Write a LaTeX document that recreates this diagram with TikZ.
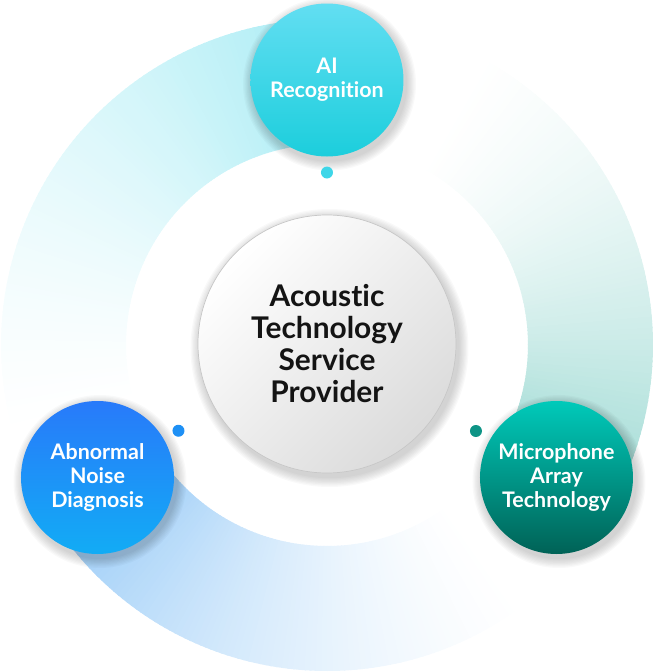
\documentclass[tikz,border=0pt]{standalone}
\usepackage{fontspec}
\setmainfont{Lato}[Ligatures=NoCommon]
\usepackage{tikz}
\usepackage{xcolor}
\definecolor{cyanring}{RGB}{182,239,246}
\definecolor{tealring}{RGB}{166,221,215}
\definecolor{bluering}{RGB}{166,210,248}
\definecolor{aitop}{RGB}{98,222,242}
\definecolor{aibot}{RGB}{28,206,220}
\definecolor{noisetop}{RGB}{40,122,250}
\definecolor{noisebot}{RGB}{18,172,245}
\definecolor{mictop}{RGB}{0,202,186}
\definecolor{micbot}{RGB}{0,98,86}
\definecolor{aidot}{RGB}{62,214,232}
\definecolor{noisedot}{RGB}{30,144,245}
\definecolor{micdot}{RGB}{14,148,134}

\begin{document}
\begin{tikzpicture}[
every node/.style = {circle, inner sep=0pt, align=center, text=white, font=\bfseries\fontsize{12.2}{13.7}\selectfont},
  bubble/.style = {minimum size=3.06cm, shading angle=45},
  dot/.style = {minimum size=0.24cm}
]
\useasboundingbox (-6.54,-6.54) rectangle (6.54,6.9);
% ring, each part fading out along the circle
\foreach \col/\from/\to/\start/\len in {cyanring/90/210/100/95, tealring/-30/70/-25/85, bluering/210/306/220/85}
  \foreach \a in {\from,...,\to} {
    \pgfmathsetmacro\t{max(0,min(1,1-(\a-\start)/\len))}
    \pgfmathsetmacro\f{100*\t*(0.4+0.6*\t)}
    \pgfmathsetmacro\b{\a+1.3}
    \fill[\col!\f!white] (\a:4.02) arc[start angle=\a, end angle=\b, radius=4.02] -- (\b:6.52) arc[start angle=\b, end angle=\a, radius=6.52] -- cycle;
  }
% shadows
\coordinate (c) at (0,0.02);
\coordinate (a) at (90:5.3);
\coordinate (n) at (210:5.3);
\coordinate (m) at (330:5.3);
\foreach \p/\r in {c/2.58, a/1.53, n/1.53, m/1.53}
  \foreach \i in {1,...,8}
    \fill[black, opacity=0.022] ([shift={(0.05,-0.08)}]\p) circle (\r+0.025*\i);
% bubbles
\node (center) [minimum size=5.16cm, top color=white, bottom color=black!14, shading angle=45, draw=black!22, thin, text=black!92, font=\bfseries\fontsize{17}{18.2}\selectfont] at (c) {Acoustic\\Technology\\Service\\Provider};
\node (ai) [bubble, top color=aitop, bottom color=aibot] at (a) {AI\\Recognition};
\node (noise) [bubble, top color=noisetop, bottom color=noisebot] at (n) {Abnormal\\Noise\\Diagnosis};
\node (mic) [bubble, top color=mictop, bottom color=micbot] at (m) {Microphone\\Array\\Technology};
% dots
\node (aid) [dot, fill=aidot] at (90:3.45) {};
\node (noised) [dot, fill=noisedot] at (210:3.43) {};
\node (micd) [dot, fill=micdot] at (330:3.44) {};
\end{tikzpicture}
\end{document}
